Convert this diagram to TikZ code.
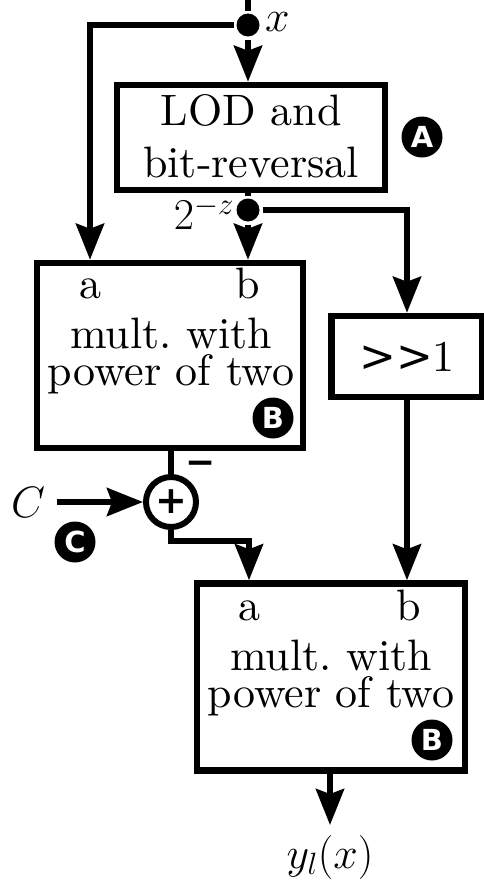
\RequirePackage{fix-cm}
\documentclass[tikz,border=0pt]{standalone}
\usepackage{fontspec}
\setmainfont{lmroman10-regular}[Extension=.otf]
\newfontfamily\symfont{DejaVu Sans}
\usetikzlibrary{arrows.meta}

\begin{document}
\begin{tikzpicture}[x=1pt,y=-1pt,line width=6pt,
  every node/.style={inner sep=0pt},
  blk/.style={draw,rectangle,line width=6.5pt},
  txt/.style={font=\fontsize{44}{52}\selectfont,align=center},
  body/.style={font=\fontsize{44}{37}\selectfont,align=center},
  arr/.style={-{Stealth[length=36pt,width=28pt,inset=5pt]}},
  dot/.style={circle,fill,minimum size=23pt},
  badge/.style={circle,fill,minimum size=41pt,text=white,
    font=\symfont\bfseries\fontsize{29}{29}\selectfont},
]
\useasboundingbox (0,0) rectangle (483,881);

% blocks (multi-line labels are anchored at the baseline of their last line)
\node[blk,minimum width=268pt,minimum height=105pt] (lod) at (251,137.5) {};
\node[txt,anchor=base] (lodtxt) at (251,177) {LOD and\\bit-reversal};
\node[badge] (bA) at (422,137) {A};

\node[blk,minimum width=266pt,minimum height=185pt] (b1) at (170,355.5) {};
\node[txt,anchor=base] (b1a) at (90,298) {a};
\node[txt,anchor=base] (b1b) at (248,298) {b};
\node[body,anchor=base] (b1txt) at (171,385) {mult.\ with\\power of two};
\node[badge] (bB1) at (273,418) {B};

\node[blk,minimum width=151pt,minimum height=81pt] (shift) at (407,356.5) {};
\node[txt] (shifttxt) at (407,357) {{\symfont >>}1};

\node[blk,minimum width=268pt,minimum height=187pt] (b2) at (331,677) {};
\node[txt,anchor=base] (b2a) at (249,620) {a};
\node[txt,anchor=base] (b2b) at (409,620) {b};
\node[body,anchor=base] (b2txt) at (331,707) {mult.\ with\\power of two};
\node[badge] (bB2) at (432,740) {B};

% adder
\node[circle,draw,minimum size=50pt,line width=6pt] (add) at (171,502)
  {\symfont\bfseries\fontsize{38}{38}\selectfont +};
\node (minus) at (201,468) {\symfont\bfseries\fontsize{36}{36}\selectfont −};
\node[txt] (clab) at (28,502) {$C$};
\node[badge] (bC) at (75,542) {C};

% signals
\coordinate (xin) at (248,0);
\node[dot] (xdot) at (248,25) {};
\node[txt,anchor=west] (xlab) at (262,22) {$x$};
\node[dot] (zdot) at (248,210) {};
\node[txt,anchor=east] (zlab) at (237,213) {$2^{-z}$};
\coordinate (bend) at (249,541);
\node[txt] (ylab) at (330,857) {$y_l(x)$};

% connectors
\draw (xin) -- (xdot);
\draw[arr] (xdot) -- (xdot |- lod.north);
\draw[arr] (xdot) -| (b1a |- b1.north);
\draw (lod.south -| zdot) -- (zdot);
\draw[arr] (zdot) -- (zdot |- b1.north);
\draw[arr] (zdot) -| (shift.north);
\draw[arr] (shift.south) -- (shift.south |- b2.north);
\draw (b1.south -| add) -- (add);
\draw[arr] (clab) ++(29,0) -- (add);
\draw[arr] (add.south) |- (bend) -- (bend |- b2.north);
\draw[arr,shorten >=7pt] (b2.south -| ylab) -- (ylab.north);
\end{tikzpicture}
\end{document}
